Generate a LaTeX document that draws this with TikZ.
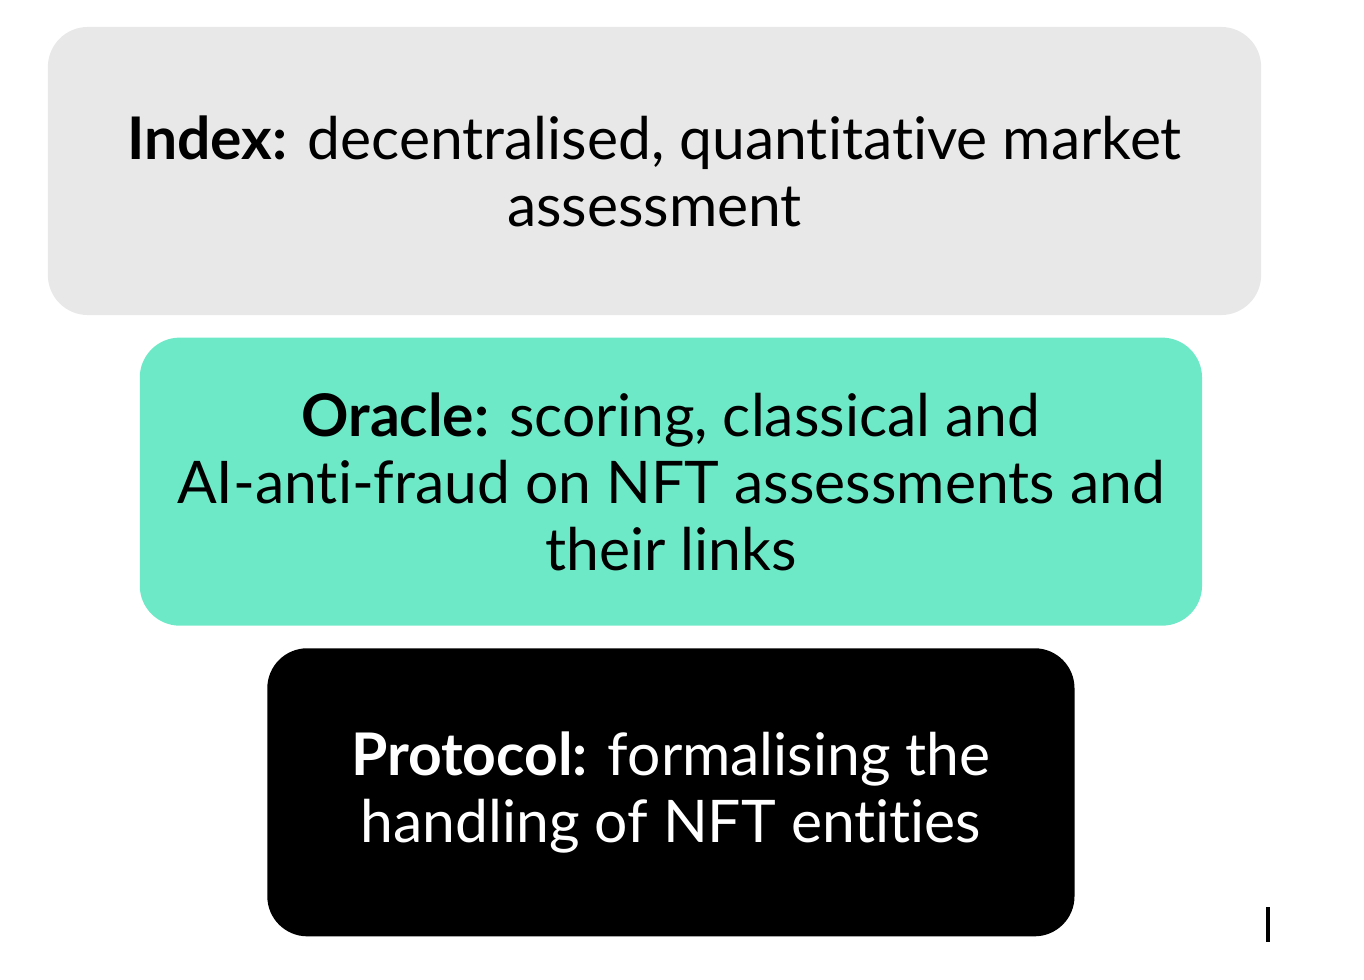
\documentclass[tikz,border=0pt]{standalone}
\usepackage{fontspec}
\setmainfont{Lato}[Ligatures=NoCommon]
\usepackage{xcolor}
\usepackage{tikz}
\usetikzlibrary{positioning}
\definecolor{indexColor}{RGB}{232,232,232}
\definecolor{oracleColor}{RGB}{110,233,200}
\definecolor{protocolColor}{RGB}{0,0,0}
\tikzstyle{layer} = [rectangle, minimum height=7.2cm, inner sep=0pt, align=center, rounded corners=1cm, font=\fontsize{41.8}{47.5}\selectfont]

\begin{document}
\begin{tikzpicture}[x=0.025cm, y=-0.025cm, node distance=0.55cm]
        \useasboundingbox (0,0) rectangle (1364,980);
        \node (index) [layer, fill=indexColor, minimum width=30.325cm] at (654.5,171) {\textbf{Index:} decentralised, quantitative market \\ assessment};
        \node (oracle) [layer, fill=oracleColor, minimum width=26.55cm, below=of index, xshift=0.41cm] {\textbf{Oracle:} scoring, classical and \\ AI-anti-fraud on NFT assessments and \\ their links};
        \node (protocol) [layer, fill=protocolColor, text=white, minimum width=20.175cm, below=of oracle] {\textbf{Protocol:} formalising the \\ handling of NFT entities};

        \draw [line width=0.1cm] (1268,907) -- (1268,942);
    \end{tikzpicture}
\end{document}
